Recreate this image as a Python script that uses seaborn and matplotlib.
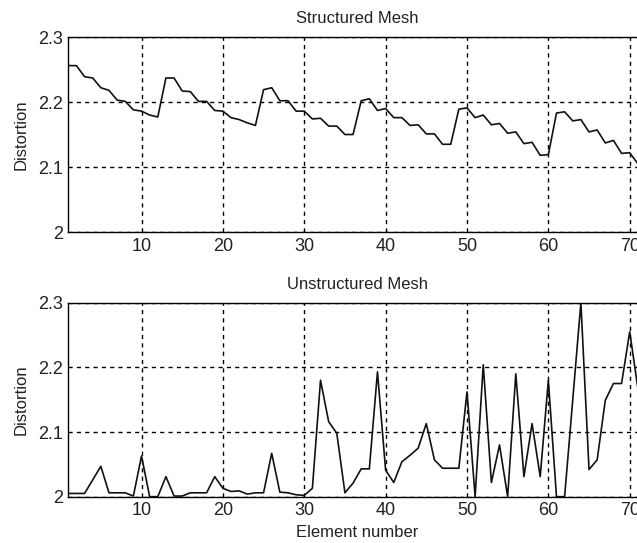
import numpy as np
import pandas as pd
import matplotlib
matplotlib.use("Agg")
import matplotlib.pyplot as plt
import seaborn as sns

# element numbers 1..71
elements = list(range(1, 72))

structured = [
    2.256, 2.256, 2.239, 2.237, 2.222, 2.218, 2.203, 2.201, 2.188, 2.186,
    2.180, 2.177, 2.237, 2.237, 2.217, 2.216, 2.201, 2.201, 2.187, 2.186,
    2.176, 2.173, 2.168, 2.164, 2.219, 2.222, 2.202, 2.202, 2.186, 2.186,
    2.174, 2.175, 2.163, 2.163, 2.150, 2.150, 2.202, 2.205, 2.187, 2.190,
    2.176, 2.176, 2.164, 2.165, 2.151, 2.151, 2.135, 2.135, 2.189, 2.191,
    2.176, 2.180, 2.165, 2.167, 2.152, 2.154, 2.136, 2.138, 2.118, 2.119,
    2.183, 2.185, 2.171, 2.173, 2.154, 2.157, 2.137, 2.141, 2.121, 2.122,
    2.105,
]

unstructured = [
    2.005, 2.005, 2.005, 2.026, 2.047, 2.006, 2.006, 2.006, 2.001, 2.063,
    2.000, 2.000, 2.031, 2.001, 2.001, 2.006, 2.006, 2.006, 2.031, 2.013,
    2.008, 2.009, 2.004, 2.006, 2.006, 2.067, 2.007, 2.006, 2.003, 2.002,
    2.013, 2.180, 2.116, 2.098, 2.006, 2.021, 2.043, 2.043, 2.193, 2.041,
    2.022, 2.054, 2.064, 2.075, 2.113, 2.057, 2.044, 2.044, 2.044, 2.162,
    2.000, 2.204, 2.022, 2.080, 2.000, 2.190, 2.031, 2.113, 2.031, 2.180,
    2.000, 2.000, 2.150, 2.300, 2.042, 2.057, 2.149, 2.175, 2.175, 2.255,
    2.168,
]

titles = ["Structured Mesh", "Unstructured Mesh"]
x_ticks = [10, 20, 30, 40, 50, 60, 70]
y_ticks = [2.0, 2.1, 2.2, 2.3]
y_tick_labels = ["2", "2.1", "2.2", "2.3"]


def main():
    sns.set_style("white")
    plt.rcParams['font.family'] = ['Liberation Sans', 'DejaVu Sans']

    df = pd.DataFrame({
        'Element': elements * 2,
        'Distortion': structured + unstructured,
        'Mesh': [titles[0]] * len(elements) + [titles[1]] * len(elements),
    })

    fig = plt.figure(figsize=(6.37, 5.43), dpi=100)
    ax_top = fig.add_axes([0.1072, 0.5727, 0.9069, 0.3591])
    ax_bot = fig.add_axes([0.1072, 0.0853, 0.9069, 0.3573])

    for ax, title in zip([ax_top, ax_bot], titles):
        sub = df[df['Mesh'] == title]
        sns.lineplot(data=sub, x='Element', y='Distortion', ax=ax,
                     color='#111111', linewidth=1.2)
        ax.set_xlim(1, 72)
        ax.set_ylim(2.0, 2.3)
        ax.set_xticks(x_ticks)
        ax.set_yticks(y_ticks)
        ax.set_yticklabels(y_tick_labels)
        ax.tick_params(direction='in', length=5, width=1, labelsize=13,
                       colors='#222222', pad=4)
        ax.grid(True, color='black', linestyle=(0, (3, 3)), linewidth=1.0)
        for s in ax.spines.values():
            s.set_color('black')
            s.set_linewidth(1.0)
        ax.set_title(title, fontsize=12, color='#222222', pad=10)
        ax.set_ylabel('Distortion', fontsize=12, color='#222222', labelpad=7)
        ax.set_xlabel('')

    ax_bot.set_xlabel('Element number', fontsize=12, color='#222222', labelpad=4)

    fig.savefig('out.png', dpi=100)


if __name__ == "__main__":
    main()
